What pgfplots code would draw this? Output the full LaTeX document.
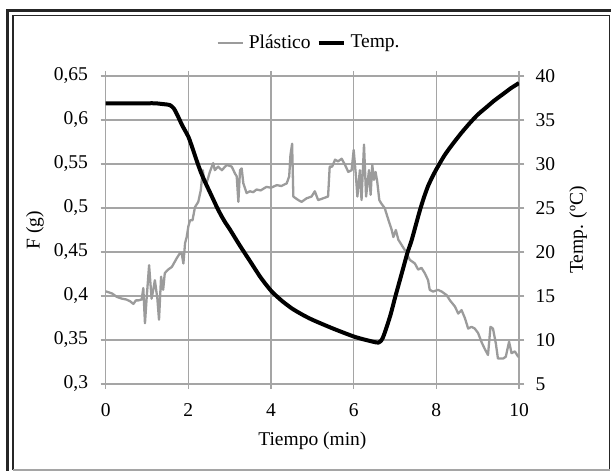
\documentclass[border=0pt]{standalone}
\usepackage{fontspec}
\setmainfont{Liberation Serif}
\usepackage{pgfplots}
\pgfplotsset{compat=1.18}
\definecolor{gline}{RGB}{155,155,155}
\definecolor{gridc}{RGB}{165,165,165}
\pgfplotsset{
  common/.style={
    scale only axis, width=413.3pt, height=308pt,
    at={(105.7pt,87pt)}, anchor=south west,
    xmin=0, xmax=10,
    /pgf/number format/assume math mode=true,
    tick align=outside, major tick length=5pt,
    every tick/.style={gridc, line width=1.2pt},
  }
}
\begin{document}
\fontsize{19.5}{22}\selectfont
\begin{tikzpicture}
\useasboundingbox (0pt,0pt) rectangle (611pt,471pt);
\draw[line width=3pt, black!85] (7.5pt,-20pt) rectangle (630pt,460pt);
\draw[line width=1.8pt, black!85] (13pt,1pt) -- (13pt,455.5pt) -- (609.5pt,455.5pt) -- (609.5pt,1pt);
\draw[line width=1.5pt, gridc] (13pt,1pt) -- (609.5pt,1pt);
\begin{axis}[common,
  ymin=0.3, ymax=0.65,
  xtick={0,2,4,6,8,10},
  ytick={0.3,0.35,0.4,0.45,0.5,0.55,0.6,0.65},
  yticklabel style={xshift=-6pt, /pgf/number format/.cd, use comma, fixed, precision=2},
  xticklabel style={yshift=-8pt},
  grid=major, grid style={gridc, line width=1.2pt},
  axis line style={gridc, line width=1.2pt},
  ylabel={F (g)}, xlabel={Tiempo (min)},
  ylabel style={at={(axis description cs:-0.171,0.5)}, anchor=center},
  xlabel style={at={(axis description cs:0.5,-0.185)}, anchor=center},
]
\addplot[gline, line width=2.3pt, line join=round] coordinates {
(0.00,0.405) (0.02,0.405) (0.15,0.403) (0.27,0.399) (0.39,0.397) (0.50,0.396)
(0.59,0.394) (0.67,0.391) (0.73,0.395) (0.79,0.395) (0.87,0.396) (0.91,0.409)
(0.95,0.369) (0.99,0.397) (1.05,0.435) (1.11,0.397) (1.15,0.407) (1.19,0.418)
(1.25,0.397) (1.29,0.373) (1.34,0.422) (1.39,0.407) (1.43,0.426) (1.51,0.430)
(1.60,0.433) (1.72,0.443) (1.80,0.449) (1.84,0.448) (1.88,0.437) (1.92,0.460)
(1.96,0.467) (2.00,0.479) (2.04,0.486) (2.10,0.486) (2.16,0.501) (2.24,0.507)
(2.30,0.520) (2.35,0.543) (2.38,0.532) (2.44,0.528) (2.52,0.541) (2.60,0.551)
(2.64,0.543) (2.72,0.547) (2.81,0.543) (2.93,0.549) (3.05,0.547) (3.13,0.539)
(3.17,0.536) (3.21,0.507) (3.25,0.543) (3.29,0.545) (3.33,0.528) (3.41,0.517)
(3.49,0.519) (3.57,0.518) (3.65,0.521) (3.75,0.520) (3.89,0.524) (4.00,0.523)
(4.14,0.526) (4.25,0.525) (4.38,0.528) (4.44,0.536) (4.47,0.560) (4.51,0.573)
(4.54,0.513) (4.60,0.511) (4.66,0.509) (4.74,0.507) (4.86,0.511) (4.98,0.513)
(5.06,0.519) (5.14,0.509) (5.26,0.511) (5.38,0.513) (5.42,0.547) (5.48,0.547)
(5.55,0.555) (5.62,0.553) (5.71,0.556) (5.79,0.549) (5.87,0.541) (5.95,0.543)
(6.00,0.566) (6.05,0.539) (6.09,0.513) (6.15,0.543) (6.19,0.509) (6.25,0.572)
(6.30,0.513) (6.37,0.543) (6.41,0.515) (6.45,0.549) (6.49,0.532) (6.53,0.541)
(6.57,0.530) (6.62,0.509) (6.67,0.505) (6.75,0.500) (6.83,0.488) (6.92,0.475)
(6.96,0.467) (7.02,0.475) (7.08,0.464) (7.16,0.458) (7.24,0.452) (7.36,0.441)
(7.48,0.437) (7.56,0.430) (7.64,0.432) (7.72,0.426) (7.80,0.418) (7.84,0.407)
(7.92,0.405) (8.04,0.407) (8.13,0.405) (8.25,0.401) (8.33,0.395) (8.45,0.388)
(8.53,0.380) (8.61,0.384) (8.69,0.375) (8.77,0.363) (8.85,0.365) (8.93,0.363)
(9.01,0.358) (9.09,0.348) (9.17,0.340) (9.25,0.333) (9.31,0.365) (9.37,0.363)
(9.44,0.346) (9.49,0.329) (9.62,0.329) (9.68,0.331) (9.76,0.348) (9.82,0.335)
(9.90,0.337) (9.98,0.331) (10.00,0.333)
};
\end{axis}
\begin{axis}[common,
  ymin=5, ymax=40,
  axis x line=none, axis y line*=right,
  axis line style={draw=none},
  ytick={5,10,15,20,25,30,35,40},
  yticklabel style={xshift=5pt},
  ylabel={Temp. (ºC)},
  ylabel style={at={(axis description cs:1.143,0.5)}, anchor=center},
  legend columns=2,
  legend style={at={(0.492,1.107)}, anchor=center, draw=none, fill=none,
    column sep=3pt, inner sep=0pt,
    /tikz/every even column/.append style={column sep=4pt}},
  legend image code/.code={\draw[#1] (0pt,0pt) -- (25pt,0pt);},
]
\addlegendimage{gline, line width=2.3pt}
\addlegendentry{Plástico}
\addplot[black, line width=4pt, line join=round, smooth, tension=0.4] coordinates {
(0,36.9) (0.5,36.9) (1.0,36.9) (1.2,36.9) (1.4,36.8) (1.55,36.7) (1.65,36.3)
(1.75,35.4) (1.85,34.4) (2.0,33.1) (2.1,31.8) (2.2,30.4) (2.3,29.1) (2.4,28.0)
(2.5,27.0) (2.6,26.0) (2.7,25.0) (2.8,24.1) (2.9,23.3) (3.0,22.6) (3.25,20.7)
(3.5,18.9) (3.75,17.1) (4.0,15.6) (4.25,14.5) (4.5,13.6) (4.75,12.9) (5.0,12.3)
(5.5,11.3) (6.0,10.4) (6.3,10.0) (6.6,9.7) (6.7,10.2) (6.8,11.5) (6.9,13.0)
(7.0,14.8) (7.1,16.5) (7.2,18.2) (7.3,19.9) (7.4,21.3) (7.5,23.0) (7.6,24.7)
(7.7,26.2) (7.8,27.5) (7.9,28.5) (8.0,29.4) (8.2,31.0) (8.4,32.3) (8.5,32.9)
(8.6,33.5) (8.8,34.6) (9.0,35.6) (9.2,36.4) (9.4,37.2) (9.6,37.9) (9.8,38.6)
(10.0,39.2)
};
\addlegendentry{Temp.}
\end{axis}
\end{tikzpicture}
\end{document}
